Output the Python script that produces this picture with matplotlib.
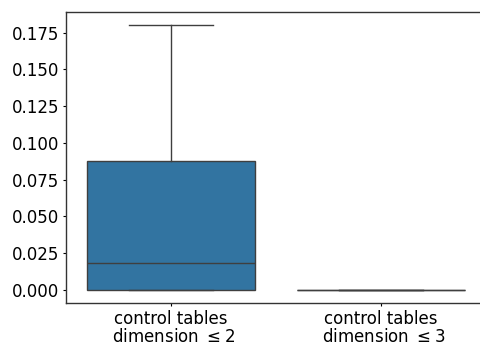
import matplotlib
matplotlib.use("Agg")
import matplotlib.pyplot as plt

# summary statistics for each group of runs
labels = ["control tables\n dimension $\\leq 2$", "control tables\n dimension $\\leq 3$"]
q1 = [0.0, 0.0]
median = [0.0184, 0.0]
q3 = [0.0874, 0.0]
whisker_low = [0.0, 0.0]
whisker_high = [0.1804, 0.0]

box_color = "#3274a1"
line_color = "#3f3f3f"

stats = []
for i in range(len(labels)):
    stats.append({
        "label": labels[i],
        "q1": q1[i],
        "med": median[i],
        "q3": q3[i],
        "whislo": whisker_low[i],
        "whishi": whisker_high[i],
        "fliers": [],
    })

fig = plt.figure(figsize=(4.81, 3.44), dpi=100)
ax = fig.add_axes([66 / 481, 1 - 303 / 344, 420 / 481, 291 / 344])

ax.bxp(
    stats,
    positions=range(len(labels)),
    widths=0.8,
    patch_artist=True,
    showfliers=False,
    boxprops={"facecolor": box_color, "edgecolor": line_color, "linewidth": 1},
    medianprops={"color": line_color, "linewidth": 1},
    whiskerprops={"color": line_color, "linewidth": 1},
    capprops={"color": line_color, "linewidth": 1},
    capwidths=0.4,
)

ax.set_xlim(-0.5, 1.5)
ax.set_ylim(-0.009, 0.189)
ax.set_yticks([0.0, 0.025, 0.05, 0.075, 0.1, 0.125, 0.15, 0.175])
ax.set_yticklabels(["0.000", "0.025", "0.050", "0.075", "0.100", "0.125", "0.150", "0.175"])
ax.tick_params(labelsize=12, length=2.5, pad=2.5)
for label in ax.get_xticklabels():
    label.set_linespacing(1.0)
for s in ax.spines.values():
    s.set_color("#333333")
    s.set_linewidth(1)

fig.savefig("out.png", dpi=100)
